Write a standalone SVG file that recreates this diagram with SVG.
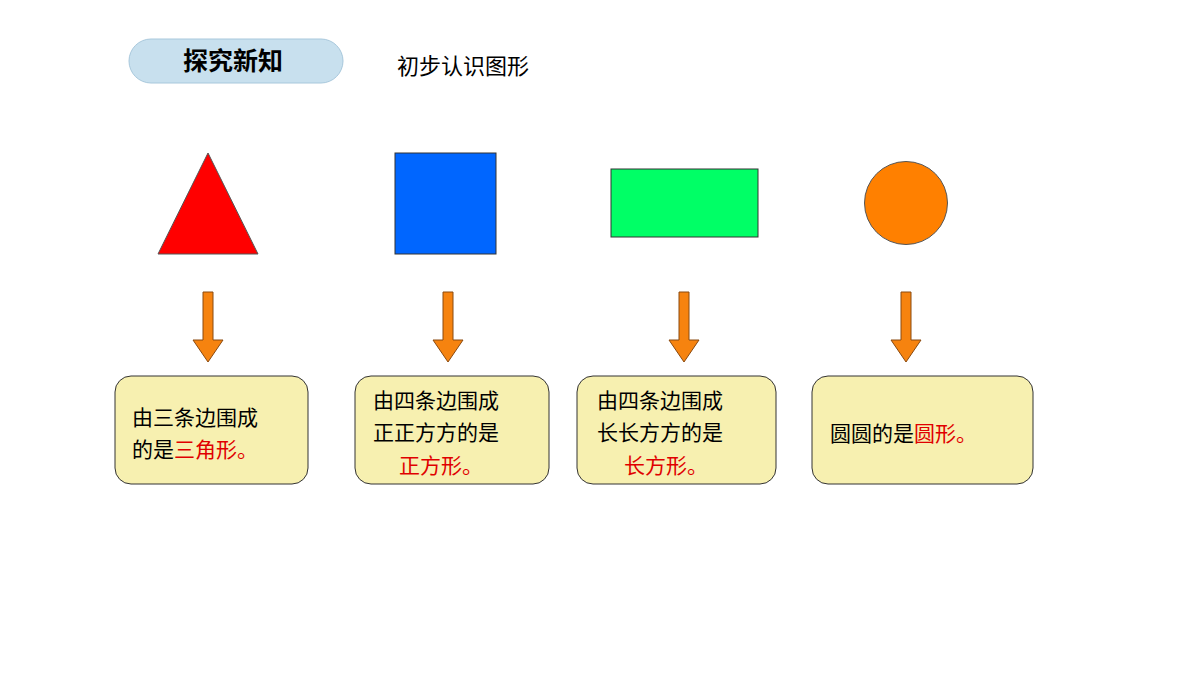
<svg xmlns="http://www.w3.org/2000/svg" width="1200" height="675" viewBox="0 0 1200 675">
<style>
text{font-family:"Noto Sans CJK SC","Noto Sans",sans-serif;font-size:21px;fill:#000}
.r{fill:#e00000}
.box{fill:#f7f0b0;stroke:#333;stroke-width:1}
.arr{fill:#f6830f;stroke:#8a4a10;stroke-width:1}
</style>
<rect width="1200" height="675" fill="#fff"/>
<g id="header">
<rect x="129" y="39" width="214" height="44" rx="22" fill="#c8e0ee" stroke="#a8c8dc"/>
<text x="233" y="70" text-anchor="middle" style="font-size:25px;font-weight:bold">探究新知</text>
<text x="397" y="74" style="font-size:22px">初步认识图形</text>
</g>
<g id="triangle"><polygon points="208,153 258,254 158,254" fill="#ff0000" stroke="#555"/></g>
<g id="square"><rect x="395" y="153" width="101" height="101" fill="#0066ff" stroke="#333"/></g>
<g id="rectangle"><rect x="611" y="169" width="147" height="68" fill="#00ff66" stroke="#333"/></g>
<g id="circle"><circle cx="906" cy="203" r="41.5" fill="#ff8000" stroke="#555"/></g>
<g id="connectors">
<path class="arr" d="M203,292h10v48h10l-15,22l-15,-22h10z"/>
<path class="arr" d="M443,292h10v48h10l-15,22l-15,-22h10z"/>
<path class="arr" d="M679,292h10v48h10l-15,22l-15,-22h10z"/>
<path class="arr" d="M901,292h10v48h10l-15,22l-15,-22h10z"/>
</g>
<g id="box1"><rect class="box" x="115" y="376" width="193" height="108" rx="16"/>
<text x="132" y="425">由三条边围成</text>
<text x="132" y="457">的是<tspan class="r">三角形。</tspan></text></g>
<g id="box2"><rect class="box" x="355" y="376" width="194" height="108" rx="16"/>
<text x="373" y="408">由四条边围成</text>
<text x="373" y="440">正正方方的是</text>
<text x="399" y="473" class="r">正方形。</text></g>
<g id="box3"><rect class="box" x="577" y="376" width="199" height="108" rx="16"/>
<text x="597" y="408">由四条边围成</text>
<text x="597" y="440">长长方方的是</text>
<text x="624" y="473" class="r">长方形。</text></g>
<g id="box4"><rect class="box" x="812" y="376" width="221" height="108" rx="16"/>
<text x="830" y="441">圆圆的是<tspan class="r">圆形。</tspan></text></g>
</svg>
